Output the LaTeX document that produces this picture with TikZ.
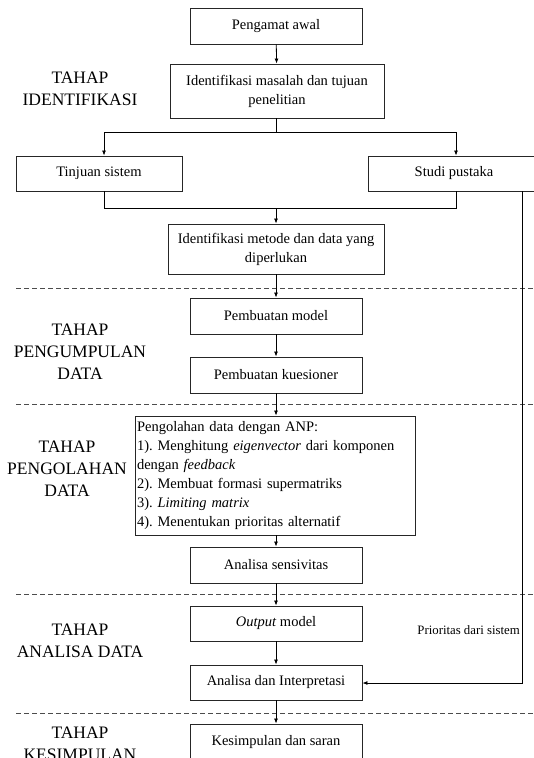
\documentclass[tikz,border=0pt]{standalone}
\usepackage{fontspec}
\setmainfont{Liberation Serif}
\usetikzlibrary{arrows.meta}
\frenchspacing
\begin{document}
\begin{tikzpicture}[x=1pt,y=-1pt,
  box/.style={draw=black!85, line width=0.9pt, inner sep=0pt, align=center, font=\fontsize{14.5}{19}\selectfont},
  arr/.style={-{Latex[length=5pt,width=4pt]}, line width=0.8pt},
  ln/.style={line width=0.8pt},
  dashline/.style={dash pattern=on 5pt off 3pt, line width=0.8pt, black!70},
  stage/.style={align=center, font=\fontsize{17.5}{22}\selectfont, inner sep=0pt}]
\useasboundingbox (0,0) rectangle (534,758);
\clip (0,0) rectangle (534,758);
% boxes
\node[box, minimum width=172pt, minimum height=36pt] (pa) at (276,26) {Pengamat awal};
\node[box, minimum width=214pt, minimum height=54pt] (im) at (277,91) {Identifikasi masalah dan tujuan\\penelitian};
\node[box, minimum width=166pt, minimum height=35pt] (ts) at (99,173.5) {Tinjuan sistem};
\node[box, minimum width=172pt, minimum height=35pt] (sp) at (454,173.5) {Studi pustaka};
\node[box, minimum width=216pt, minimum height=50pt] (imd) at (276,249) {Identifikasi metode dan data yang\\diperlukan};
\node[box, minimum width=172pt, minimum height=36pt] (pm) at (276,316) {Pembuatan model};
\node[box, minimum width=172pt, minimum height=36pt] (pk) at (276,375) {Pembuatan kuesioner};
\node[box, minimum width=280pt, minimum height=119pt, align=left, text width=277pt] (anp) at (275.5,475.5) {Pengolahan data dengan ANP:\\
1). Menghitung \textit{eigenvector} dari komponen\\
dengan \textit{feedback}\\
2). Membuat formasi supermatriks\\
3). \textit{Limiting matrix}\\
4). Menentukan prioritas alternatif};
\node[box, minimum width=172pt, minimum height=36pt] (as) at (276,565) {Analisa sensivitas};
\node[box, minimum width=172pt, minimum height=35pt] (om) at (276,623.5) {\textit{Output} model};
\node[box, minimum width=172pt, minimum height=35pt] (ai) at (276,682.5) {Analisa dan Interpretasi};
\node[box, minimum width=172pt, minimum height=36pt] (ks) at (276,742) {Kesimpulan dan saran};
% stage labels
\node[stage] (s1) at (80,89) {TAHAP\\IDENTIFIKASI};
\node[stage] (s2) at (80,352) {TAHAP\\PENGUMPULAN\\DATA};
\node[stage] (s3) at (67,469) {TAHAP\\PENGOLAHAN\\DATA};
\node[stage] (s4) at (80,641) {TAHAP\\ANALISA DATA};
\node[stage] (s5) at (80,744) {TAHAP\\KESIMPULAN};
\node[anchor=east, inner sep=0pt, font=\fontsize{12.8}{14}\selectfont] (prio) at (520,630) {Prioritas dari sistem};
% dashed separators
\draw[dashline] (16,288) -- (534,288);
\draw[dashline] (16,404) -- (534,404);
\draw[dashline] (16,594) -- (534,594);
\draw[dashline] (16,713) -- (534,713);
% connectors
\coordinate (bl) at (104,132);
\coordinate (bc) at (276,132);
\coordinate (br) at (456,132);
\coordinate (ml) at (104,208);
\coordinate (mc) at (276,208);
\coordinate (mr) at (456,208);
\coordinate (rc) at (522,683);
\draw[arr] (pa) -- (im);
\draw[ln] (im.south -| bc) -- (bc);
\draw[ln] (bl) -- (br);
\draw[arr] (bl) -- (bl |- ts.north);
\draw[arr] (br) -- (br |- sp.north);
\draw[ln] (ml |- ts.south) -- (ml) -- (mr) -- (mr |- sp.south);
\draw[arr] (mc) -- (mc |- imd.north);
\draw[arr] (imd) -- (pm);
\draw[arr] (pm) -- (pk);
\draw[arr] (pk.south) -- (pk.south |- anp.north);
\draw[arr] (anp.south -| as) -- (as.north);
\draw[arr] (as) -- (om);
\draw[arr] (om) -- (ai);
\draw[arr] (ai) -- (ks);
\draw[arr] (rc |- sp.south) -- (rc) -- (rc -| ai.east);
\end{tikzpicture}
\end{document}
